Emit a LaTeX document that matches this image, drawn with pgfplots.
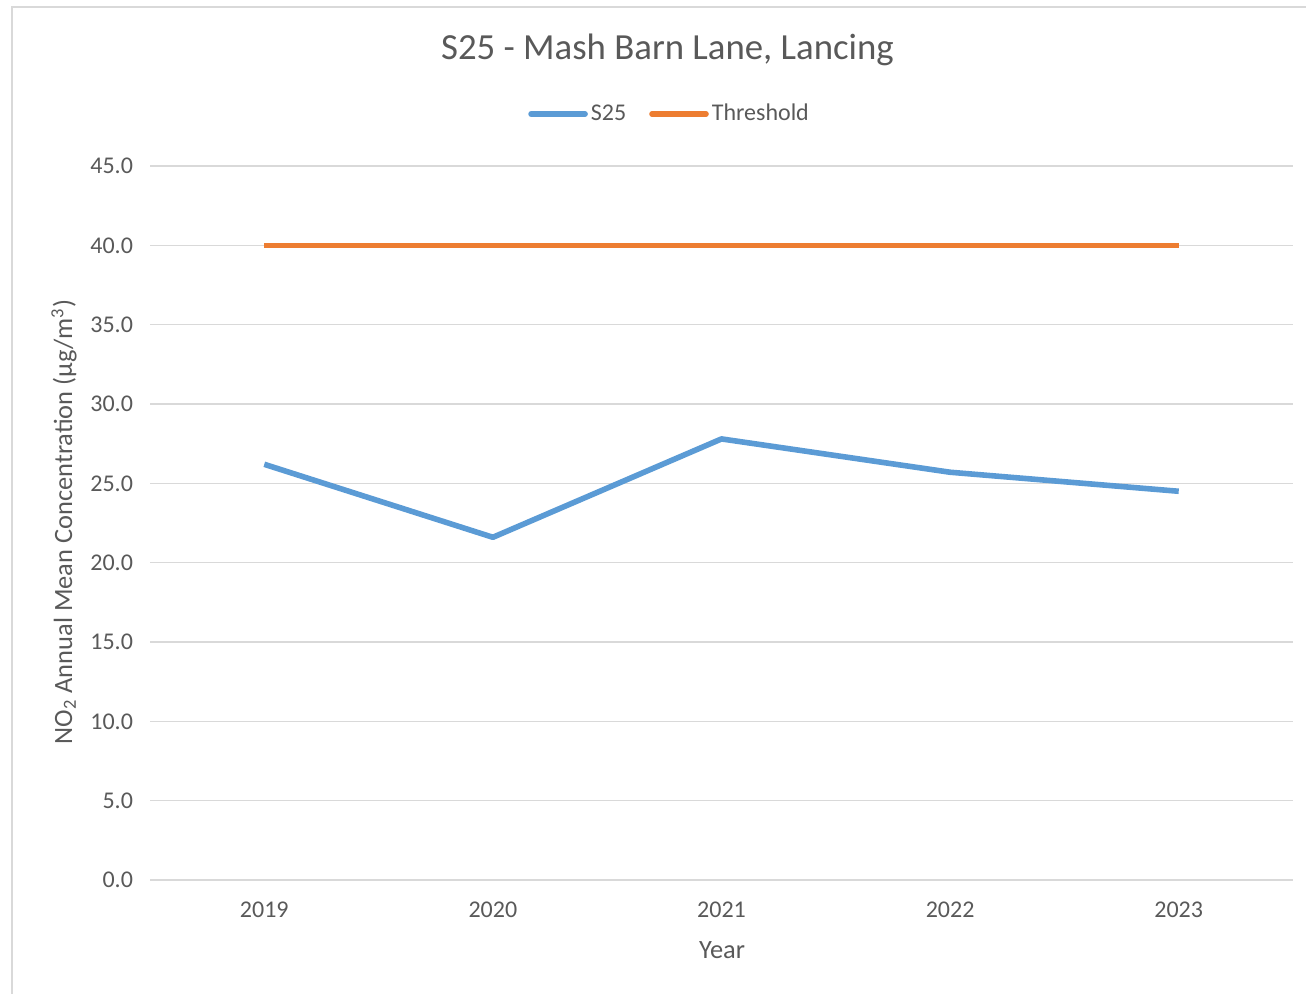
\documentclass[border=0pt]{standalone}
\usepackage{fontspec}
\setmainfont{Carlito}
\usepackage{pgfplots}
\pgfplotsset{compat=1.18}
\definecolor{sblue}{HTML}{5B9BD5}
\definecolor{sorange}{HTML}{ED7D31}
\definecolor{gridc}{HTML}{D9D9D9}
\definecolor{txt}{HTML}{595959}
\begin{document}
\begin{tikzpicture}
\draw[gridc, line width=0.8pt] (6pt,-20pt) -- (6pt,493pt) -- (720pt,493pt);
\begin{axis}[
  at={(75pt,56.5pt)}, anchor=south west,
  scale only axis, width=571.5pt, height=357pt,
  xmin=2018.5, xmax=2023.5, ymin=0, ymax=45,
  xtick={2019,2020,2021,2022,2023},
  ytick={0,5,...,45},
  ymajorgrids, grid style={gridc, line width=0.8pt},
  axis line style={draw=none},
  major tick length=0pt,
  /pgf/number format/assume math mode=true,
  xticklabel style={/pgf/number format/1000 sep={}, font=\fontsize{12}{14}\selectfont, text=txt, yshift=-7.5pt},
  yticklabel style={/pgf/number format/fixed, /pgf/number format/fixed zerofill, /pgf/number format/precision=1, font=\fontsize{12}{14}\selectfont, text=txt, xshift=-5pt},
  legend style={at={(0.455,1.0728)}, anchor=center, draw=none, fill=none, legend columns=2, font=\fontsize{12}{14}\selectfont, text=txt, /tikz/every even column/.append style={column sep=10pt}, inner sep=0pt, nodes={inner sep=1.5pt}},
  legend image code/.code={\draw[#1, line width=2.8pt, line cap=round] (0pt,0pt) -- (27pt,0pt);},
  legend cell align=left,
]
\addplot[sblue, line width=2.8pt, line join=round] coordinates {(2019,26.2) (2020,21.6) (2021,27.8) (2022,25.7) (2023,24.5)};
\addlegendentry{S25}
\addplot[sorange, line width=2.8pt] coordinates {(2019,40) (2020,40) (2021,40) (2022,40) (2023,40)};
\addlegendentry{Threshold}
\end{axis}
\node[text=txt, font=\fontsize{18.4}{22}\selectfont] at (333.75pt,471.5pt) {S25 - Mash Barn Lane, Lancing};
\node[text=txt, font=\fontsize{13.2}{16}\selectfont] at (361pt,21.5pt) {Year};
\node[text=txt, font=\fontsize{13.2}{16}\selectfont, rotate=90] at (32pt,235.5pt) {NO\textsubscript{2} Annual Mean Concentration (µg/m\textsuperscript{3})};
\pgfresetboundingbox
\useasboundingbox (0,0) rectangle (653pt,496.5pt);
\end{tikzpicture}
\end{document}
